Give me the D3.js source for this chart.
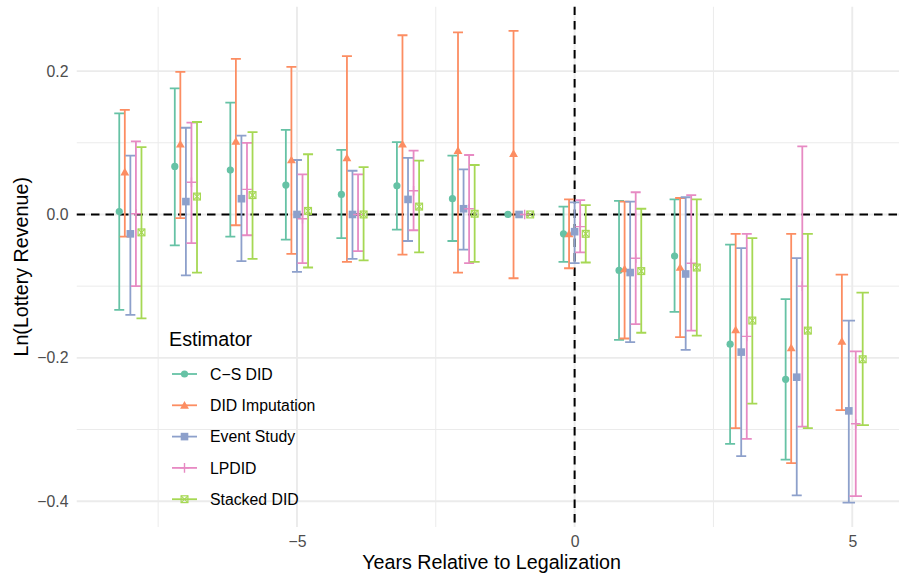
<!DOCTYPE html>
<html>
<head>
<meta charset="utf-8">
<script src="https://cdn.jsdelivr.net/npm/d3@7"></script>
<style>
  body { margin: 0; background: #ffffff; }
  text { font-family: "Liberation Sans", Arial, Helvetica, sans-serif; }
</style>
</head>
<body>
<svg id="chart" width="899" height="579"></svg>
<script>
// Event-time estimates of the effect of legalization on ln(lottery revenue)
const years = [-8, -7, -6, -5, -4, -3, -2, -1, 0, 1, 2, 3, 4, 5];
const estimators = ["C\u2212S DID", "DID Imputation", "Event Study", "LPDID", "Stacked DID"];
const colors = ["#66c2a5", "#fc8d62", "#8da0cb", "#e78ac3", "#a6d854"];
const shapes = ["circle", "triangle", "square", "plus", "squareCross"];

// Callaway–Sant'Anna
const csEst = [0.004, 0.067, 0.062, 0.041, 0.028, 0.040, 0.022, 0.000, -0.027, -0.078, -0.058, -0.181, -0.230, null];
const csLo  = [-0.133, -0.043, -0.031, -0.035, -0.033, -0.021, -0.037, null, -0.066, -0.175, -0.136, -0.320, -0.342, null];
const csHi  = [0.141, 0.176, 0.156, 0.118, 0.090, 0.101, 0.082, null, 0.011, 0.019, 0.021, -0.042, -0.118, null];

// Imputation estimator
const impEst = [0.059, 0.098, 0.102, 0.076, 0.079, 0.098, 0.089, 0.085, -0.027, -0.076, -0.074, -0.161, -0.186, -0.177];
const impLo  = [-0.031, -0.005, -0.015, -0.055, -0.066, -0.056, -0.081, -0.089, -0.075, -0.173, -0.171, -0.298, -0.347, -0.273];
const impHi  = [0.146, 0.199, 0.217, 0.206, 0.221, 0.250, 0.254, 0.256, 0.021, 0.018, 0.023, -0.027, -0.027, -0.084];

// Two-way fixed effects event study
const esEst = [-0.027, 0.018, 0.022, 0.000, 0.000, 0.021, 0.008, 0.000, -0.024, -0.081, -0.083, -0.192, -0.227, -0.274];
const esLo  = [-0.140, -0.085, -0.065, -0.080, -0.062, -0.037, -0.049, null, -0.068, -0.178, -0.189, -0.337, -0.392, -0.402];
const esHi  = [0.082, 0.121, 0.110, 0.076, 0.061, 0.079, 0.063, null, 0.017, 0.018, 0.024, -0.047, -0.061, -0.148];

// Local projections DID
const lpEst = [0.001, 0.045, 0.035, -0.006, 0.000, 0.033, 0.008, 0.000, -0.017, -0.061, -0.068, -0.170, -0.100, -0.292];
const lpLo  = [-0.100, -0.040, -0.029, -0.068, -0.051, -0.022, -0.068, null, -0.053, -0.153, -0.162, -0.313, -0.296, -0.393];
const lpHi  = [0.102, 0.128, 0.100, 0.056, 0.056, 0.089, 0.083, null, 0.020, 0.031, 0.027, -0.027, 0.095, -0.191];

// Stacked DID
const stEst = [-0.025, 0.025, 0.027, 0.005, 0.000, 0.011, 0.001, 0.000, -0.027, -0.079, -0.074, -0.148, -0.162, -0.202];
const stLo  = [-0.145, -0.081, -0.062, -0.074, -0.064, -0.053, -0.066, null, -0.067, -0.165, -0.169, -0.264, -0.298, -0.294];
const stHi  = [0.094, 0.129, 0.115, 0.084, 0.066, 0.075, 0.069, null, 0.013, 0.008, 0.021, -0.033, -0.027, -0.109];

const xBreaks = [-5, 0, 5];
const xMinor = [-7.5, -2.5, 2.5];
const yBreaks = [-0.4, -0.2, 0.0, 0.2];
const yMinor = [-0.3, -0.1, 0.1];

const seriesEst = [csEst, impEst, esEst, lpEst, stEst];
const seriesLo = [csLo, impLo, esLo, lpLo, stLo];
const seriesHi = [csHi, impHi, esHi, lpHi, stHi];

// ---- layout ----
const svg = d3.select("#chart");
const panel = { left: 76.5, right: 906.7, top: 6.6, bottom: 527 };
const x = d3.scaleLinear().domain([-8.97, 5.98]).range([panel.left, panel.right]);
const y = d3.scaleLinear().domain([-0.436, 0.290]).range([panel.bottom, panel.top]);

const dodgeWidth = 0.5;   // total horizontal spread of one year's estimates
const barWidth = 0.9;     // errorbar cap width before dodging

// long-format rows with dodged positions
const rows = [];
years.forEach((yr, i) => {
  const present = estimators.map((_, k) => k).filter(k => seriesEst[k][i] !== null);
  const n = present.length;
  present.forEach((k, j) => {
    rows.push({
      year: yr, k: k,
      xd: yr + dodgeWidth * ((j + 0.5) / n - 0.5),
      half: barWidth / n / 2,
      est: seriesEst[k][i], lo: seriesLo[k][i], hi: seriesHi[k][i]
    });
  });
});

svg.append("defs").append("clipPath").attr("id", "panelClip")
  .append("rect").attr("x", panel.left).attr("y", panel.top)
  .attr("width", panel.right - panel.left).attr("height", panel.bottom - panel.top);

const g = svg.append("g").attr("clip-path", "url(#panelClip)");

// grid
const gridColor = "#ebebeb";
g.selectAll(".ymin").data(yMinor).join("line")
  .attr("x1", panel.left).attr("x2", panel.right)
  .attr("y1", d => y(d)).attr("y2", d => y(d))
  .attr("stroke", gridColor).attr("stroke-width", 1);
g.selectAll(".xmin").data(xMinor).join("line")
  .attr("y1", panel.top).attr("y2", panel.bottom)
  .attr("x1", d => x(d)).attr("x2", d => x(d))
  .attr("stroke", gridColor).attr("stroke-width", 1);
g.selectAll(".ymaj").data(yBreaks).join("line")
  .attr("x1", panel.left).attr("x2", panel.right)
  .attr("y1", d => y(d)).attr("y2", d => y(d))
  .attr("stroke", gridColor).attr("stroke-width", 1.9);
g.selectAll(".xmaj").data(xBreaks).join("line")
  .attr("y1", panel.top).attr("y2", panel.bottom)
  .attr("x1", d => x(d)).attr("x2", d => x(d))
  .attr("stroke", gridColor).attr("stroke-width", 1.9);

// reference lines at zero effect and legalization year
g.append("line")
  .attr("x1", panel.left).attr("x2", panel.right)
  .attr("y1", y(0)).attr("y2", y(0))
  .attr("stroke", "#000").attr("stroke-width", 2).attr("stroke-dasharray", "8.5,6");
g.append("line")
  .attr("y1", panel.top).attr("y2", panel.bottom)
  .attr("x1", x(0)).attr("x2", x(0))
  .attr("stroke", "#000").attr("stroke-width", 2).attr("stroke-dasharray", "8.5,6");

// confidence intervals
const pxPerYear = x(1) - x(0);
g.selectAll(".ci").data(rows.filter(r => r.lo !== null)).join("path")
  .attr("fill", "none")
  .attr("stroke", r => colors[r.k])
  .attr("stroke-width", 1.8)
  .attr("d", r => {
    const cx = x(r.xd), h = r.half * pxPerYear;
    return `M${cx - h},${y(r.hi)}H${cx + h}M${cx},${y(r.hi)}V${y(r.lo)}M${cx - h},${y(r.lo)}H${cx + h}`;
  });

// point markers
function marker(sel, shape, color) {
  if (shape === "circle") {
    sel.append("circle").attr("r", 3.6).attr("fill", color);
  } else if (shape === "triangle") {
    sel.append("path").attr("d", d3.symbol(d3.symbolTriangle, 34)()).attr("fill", color)
      .attr("transform", "translate(0,0.8)");
  } else if (shape === "square") {
    sel.append("rect").attr("x", -3.8).attr("y", -3.8).attr("width", 7.6).attr("height", 7.6).attr("fill", color);
  } else if (shape === "plus") {
    sel.append("path").attr("d", "M-4.8,0H4.8M0,-4.8V4.8").attr("stroke", color)
      .attr("stroke-width", 1.4).attr("fill", "none");
  } else {
    sel.append("rect").attr("x", -3.4).attr("y", -3.4).attr("width", 6.8).attr("height", 6.8)
      .attr("fill", "none").attr("stroke", color).attr("stroke-width", 1.2);
    sel.append("path").attr("d", "M-3.4,-3.4L3.4,3.4M-3.4,3.4L3.4,-3.4")
      .attr("stroke", color).attr("stroke-width", 1.1).attr("fill", "none");
  }
}

rows.forEach(r => {
  const m = g.append("g").attr("transform", `translate(${x(r.xd)},${y(r.est)})`);
  marker(m, shapes[r.k], colors[r.k]);
});

// axes
const tickFont = 15.8;
const xAxis = svg.append("g").attr("transform", `translate(0,${panel.bottom})`)
  .call(d3.axisBottom(x).tickValues(xBreaks).tickSize(0).tickPadding(9).tickFormat(d3.format("d")));
const yAxis = svg.append("g").attr("transform", `translate(${panel.left},0)`)
  .call(d3.axisLeft(y).tickValues(yBreaks).tickSize(0).tickPadding(8).tickFormat(d3.format(".1f")));
[xAxis, yAxis].forEach(a => {
  a.select(".domain").remove();
  a.selectAll("text").attr("fill", "#4d4d4d").style("font-size", tickFont + "px")
    .style("font-family", "'Liberation Sans', Arial, sans-serif");
});

const titleFont = 19.7;
svg.append("text")
  .attr("x", (panel.left + panel.right) / 2).attr("y", 569)
  .attr("text-anchor", "middle").style("font-size", titleFont + "px").attr("fill", "#000")
  .text("Years Relative to Legalization");
svg.append("text")
  .attr("transform", `translate(28,${(panel.top + panel.bottom) / 2}) rotate(-90)`)
  .attr("text-anchor", "middle").style("font-size", titleFont + "px").attr("fill", "#000")
  .text("Ln(Lottery Revenue)");

// legend
const legend = svg.append("g");
legend.append("text").attr("x", 169).attr("y", 346)
  .style("font-size", titleFont + "px").attr("fill", "#000").text("Estimator");
estimators.forEach((name, k) => {
  const ky = 374 + k * 31.3;
  legend.append("line").attr("x1", 172).attr("x2", 197).attr("y1", ky).attr("y2", ky)
    .attr("stroke", colors[k]).attr("stroke-width", 1.8);
  const m = legend.append("g").attr("transform", `translate(184.5,${ky})`);
  marker(m, shapes[k], colors[k]);
  legend.append("text").attr("x", 210).attr("y", ky + 5.6)
    .style("font-size", tickFont + "px").attr("fill", "#000").text(name);
});
</script>
</body>
</html>
